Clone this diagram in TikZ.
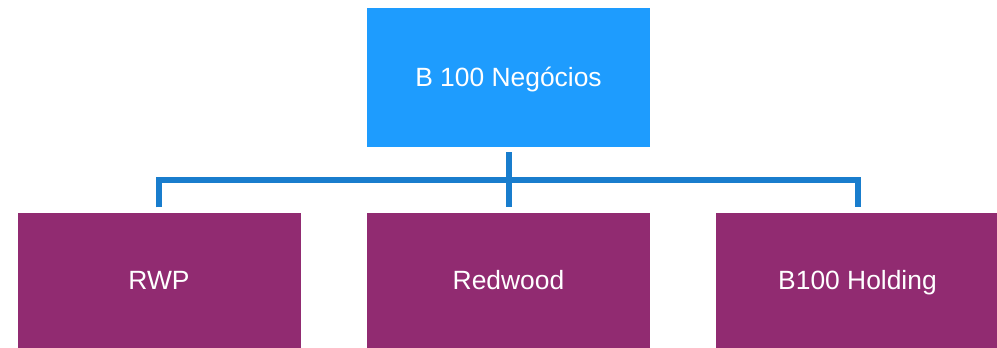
\documentclass[tikz,border=0pt]{standalone}
\usepackage{fontspec}
\setmainfont{Liberation Sans}
\begin{document}
\begin{tikzpicture}[x=1pt,y=1pt,
  box/.style={rectangle, inner sep=0pt, minimum width=283pt, text=white,
    font=\fontsize{26.4}{31}\selectfont, text height=18.9pt, text depth=0pt},
  parentbox/.style={box, fill=headblue, minimum height=139pt},
  childbox/.style={box, fill=unitpurple, minimum height=135pt},
  conn/.style={draw=linkblue, line width=6pt, line join=miter, line cap=butt}]
\definecolor{headblue}{RGB}{30,156,254}
\definecolor{unitpurple}{RGB}{145,43,113}
\definecolor{linkblue}{RGB}{25,125,205}
\useasboundingbox (0,0) rectangle (997,348);
\begin{scope}
\clip (0,0) rectangle (997,348);
% parent company
\node[parentbox] (head) at (508.5,270.5) {B 100 Negócios};
% subsidiaries
\node[childbox] (rwp) at (159,67.5) {RWP};
\node[childbox] (redwood) at (508.5,67.5) {Redwood};
\node[childbox] (holding) at (857.5,67.5) {B100 Holding};
\end{scope}
% bus line linking the parent to each subsidiary
\coordinate (bus) at ([yshift=-33pt]head.south);
\draw[conn] ([yshift=5.3pt]rwp.north) |- (bus) -| ([yshift=5.3pt]holding.north);
\draw[conn] ([yshift=-5.3pt]head.south) -- ([yshift=5.3pt]redwood.north);
\end{tikzpicture}
\end{document}
